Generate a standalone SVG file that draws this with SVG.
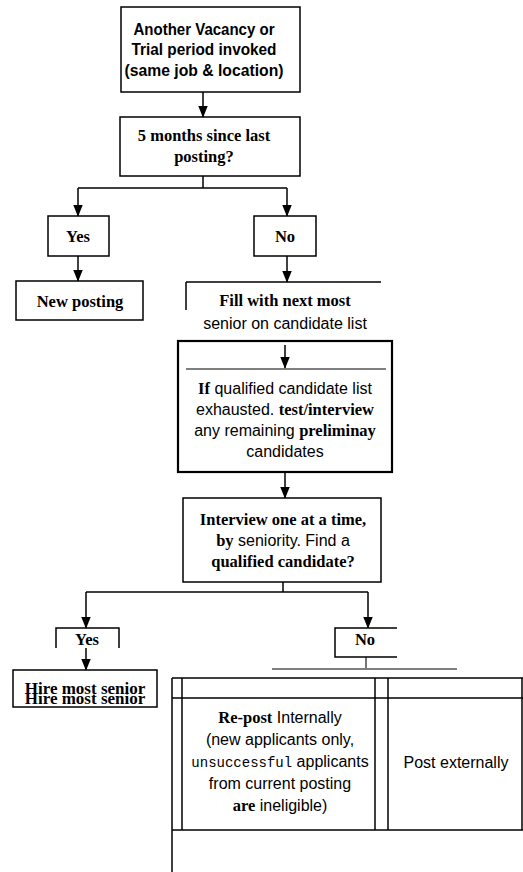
<svg xmlns="http://www.w3.org/2000/svg" width="523" height="872" viewBox="0 0 523 872">
<style>
  .box { fill: #fff; stroke: #000; stroke-width: 1.5; }
  .thick { stroke-width: 2.2; }
  .ln { fill: none; stroke: #000; stroke-width: 1.5; }
  .thin { fill: none; stroke: #000; stroke-width: 1.1; }
  .sans { font-family: "Liberation Sans", Arial, sans-serif; font-size: 16px; fill: #000; }
  .sansb { font-family: "Liberation Sans", Arial, sans-serif; font-size: 16px; font-weight: bold; fill: #000; }
  .serif { font-family: "Liberation Serif", "Times New Roman", serif; font-size: 16.5px; font-weight: bold; fill: #000; }
  .mono { font-family: "Liberation Mono", "Courier New", monospace; font-size: 14px; fill: #000; }
  text { text-anchor: middle; }
</style>
<defs>
  <marker id="arr" markerUnits="userSpaceOnUse" markerWidth="12" markerHeight="16" refX="6" refY="15" orient="auto-start-reverse" viewBox="0 0 12 16">
    <path d="M0,0 L12,0 L6,15 Z" fill="#000" transform="rotate(-90 6 8) translate(0 0)"/>
  </marker>
  <marker id="ah" markerUnits="userSpaceOnUse" markerWidth="12" markerHeight="15" refX="14" refY="6" orient="auto" viewBox="0 0 15 12">
    <path d="M0,0 L15,6 L0,12 Z" fill="#000"/>
  </marker>
</defs>

<g id="connectors">
  <line class="ln" x1="203" y1="92" x2="203" y2="117" marker-end="url(#ah)"/>
  <polyline class="ln" points="203,176 203,188"/>
  <line class="ln" x1="78" y1="188" x2="287" y2="188"/>
  <line class="ln" x1="78" y1="188" x2="78" y2="216" marker-end="url(#ah)"/>
  <line class="ln" x1="287" y1="188" x2="287" y2="216" marker-end="url(#ah)"/>
  <line class="ln" x1="78" y1="256" x2="78" y2="281" marker-end="url(#ah)"/>
  <line class="ln" x1="287" y1="256" x2="287" y2="282" marker-end="url(#ah)"/>
  <line class="ln" x1="285" y1="472" x2="285" y2="498" marker-end="url(#ah)"/>
  <line class="ln" x1="283" y1="582" x2="283" y2="592"/>
  <line class="ln" x1="86" y1="592" x2="368" y2="592"/>
  <line class="ln" x1="86" y1="592" x2="86" y2="628" marker-end="url(#ah)"/>
  <line class="ln" x1="368" y1="592" x2="368" y2="628" marker-end="url(#ah)"/>
  <line class="ln" x1="86" y1="648" x2="86" y2="670" marker-end="url(#ah)"/>
  <line class="thin" x1="366" y1="657" x2="366" y2="668"/>
  <line class="thin" x1="272" y1="669" x2="457" y2="669"/>
</g>

<g id="vacancy">
  <rect class="box" x="121" y="7" width="179" height="85"/>
  <text class="sansb" x="204" y="35" textLength="141" lengthAdjust="spacingAndGlyphs">Another Vacancy or</text>
  <text class="sansb" x="204" y="55" textLength="145" lengthAdjust="spacingAndGlyphs">Trial period invoked</text>
  <text class="sansb" x="204" y="76" textLength="159" lengthAdjust="spacingAndGlyphs">(same job &amp; location)</text>
</g>

<g id="five-months">
  <rect class="box" x="120" y="117" width="180" height="59"/>
  <text class="serif" x="204" y="141">5 months since last</text>
  <text class="serif" x="204" y="162">posting?</text>
</g>

<g id="yes1">
  <rect class="box" x="48" y="216" width="61" height="40"/>
  <text class="serif" x="78" y="242">Yes</text>
</g>

<g id="no1">
  <rect class="box" x="254" y="216" width="62" height="40"/>
  <text class="serif" x="285" y="242">No</text>
</g>

<g id="new-posting">
  <rect class="box" x="16" y="281" width="127" height="39"/>
  <text class="serif" x="80" y="307">New posting</text>
</g>

<g id="fill-next">
  <line class="ln" x1="186" y1="282" x2="381" y2="282"/>
  <line class="ln" x1="186" y1="282" x2="186" y2="310"/>
  <text class="serif" x="285" y="306">Fill with next most</text>
  <text class="sans" x="285" y="329">senior on candidate list</text>
</g>

<g id="exhausted">
  <rect class="box thick" x="178" y="341" width="214" height="131"/>
  <line class="ln" x1="285" y1="345" x2="285" y2="368" marker-end="url(#ah)"/>
  <line class="thin" x1="186" y1="369" x2="386" y2="369"/>
  <text x="285" y="394"><tspan class="serif">If</tspan><tspan class="sans"> qualified candidate list</tspan></text>
  <text x="285" y="415"><tspan class="sans">exhausted. </tspan><tspan class="serif">test/interview</tspan></text>
  <text x="285" y="436"><tspan class="sans">any remaining </tspan><tspan class="serif">preliminay</tspan></text>
  <text class="sans" x="285" y="457">candidates</text>
</g>

<g id="interview">
  <rect class="box" x="183" y="498" width="198" height="84"/>
  <text class="serif" x="283" y="525">Interview one at a time,</text>
  <text x="283" y="546"><tspan class="serif">by</tspan><tspan class="sans"> seniority. Find a</tspan></text>
  <text class="serif" x="283" y="567">qualified candidate?</text>
</g>

<g id="yes2">
  <polyline class="ln" points="56,648 56,628 119,628 119,648"/>
  <text class="serif" x="87" y="645">Yes</text>
</g>

<g id="no2">
  <polyline class="ln" points="397,628 335,628 335,657 397,657"/>
  <text class="serif" x="365" y="645">No</text>
</g>

<g id="hire">
  <rect class="box" x="13" y="670" width="144" height="37"/>
  <text class="serif" x="85" y="694" style="font-size:17px">Hire most senior</text>
  <text class="serif" x="85" y="704" style="font-size:17px">Hire most senior</text>
</g>

<g id="post-table">
  <line class="ln" x1="172" y1="678" x2="523" y2="678"/>
  <line class="ln" x1="172" y1="698" x2="523" y2="698"/>
  <line class="ln" x1="172" y1="830" x2="523" y2="830"/>
  <line class="ln" x1="172" y1="678" x2="172" y2="872"/>
  <line class="ln" x1="182" y1="678" x2="182" y2="830"/>
  <line class="ln" x1="375" y1="678" x2="375" y2="830"/>
  <line class="ln" x1="388" y1="678" x2="388" y2="830"/>
  <line class="ln" x1="522" y1="678" x2="522" y2="830"/>
  <text x="280" y="723"><tspan class="serif">Re-post</tspan><tspan class="sans"> Internally</tspan></text>
  <text class="sans" x="280" y="745">(new applicants only,</text>
  <text x="280" y="767"><tspan class="mono">unsuccessful</tspan><tspan class="sans"> applicants</tspan></text>
  <text class="sans" x="280" y="789">from current posting</text>
  <text x="280" y="811"><tspan class="serif">are</tspan><tspan class="sans"> ineligible)</tspan></text>
  <text class="sans" x="456" y="768">Post externally</text>
</g>
</svg>
